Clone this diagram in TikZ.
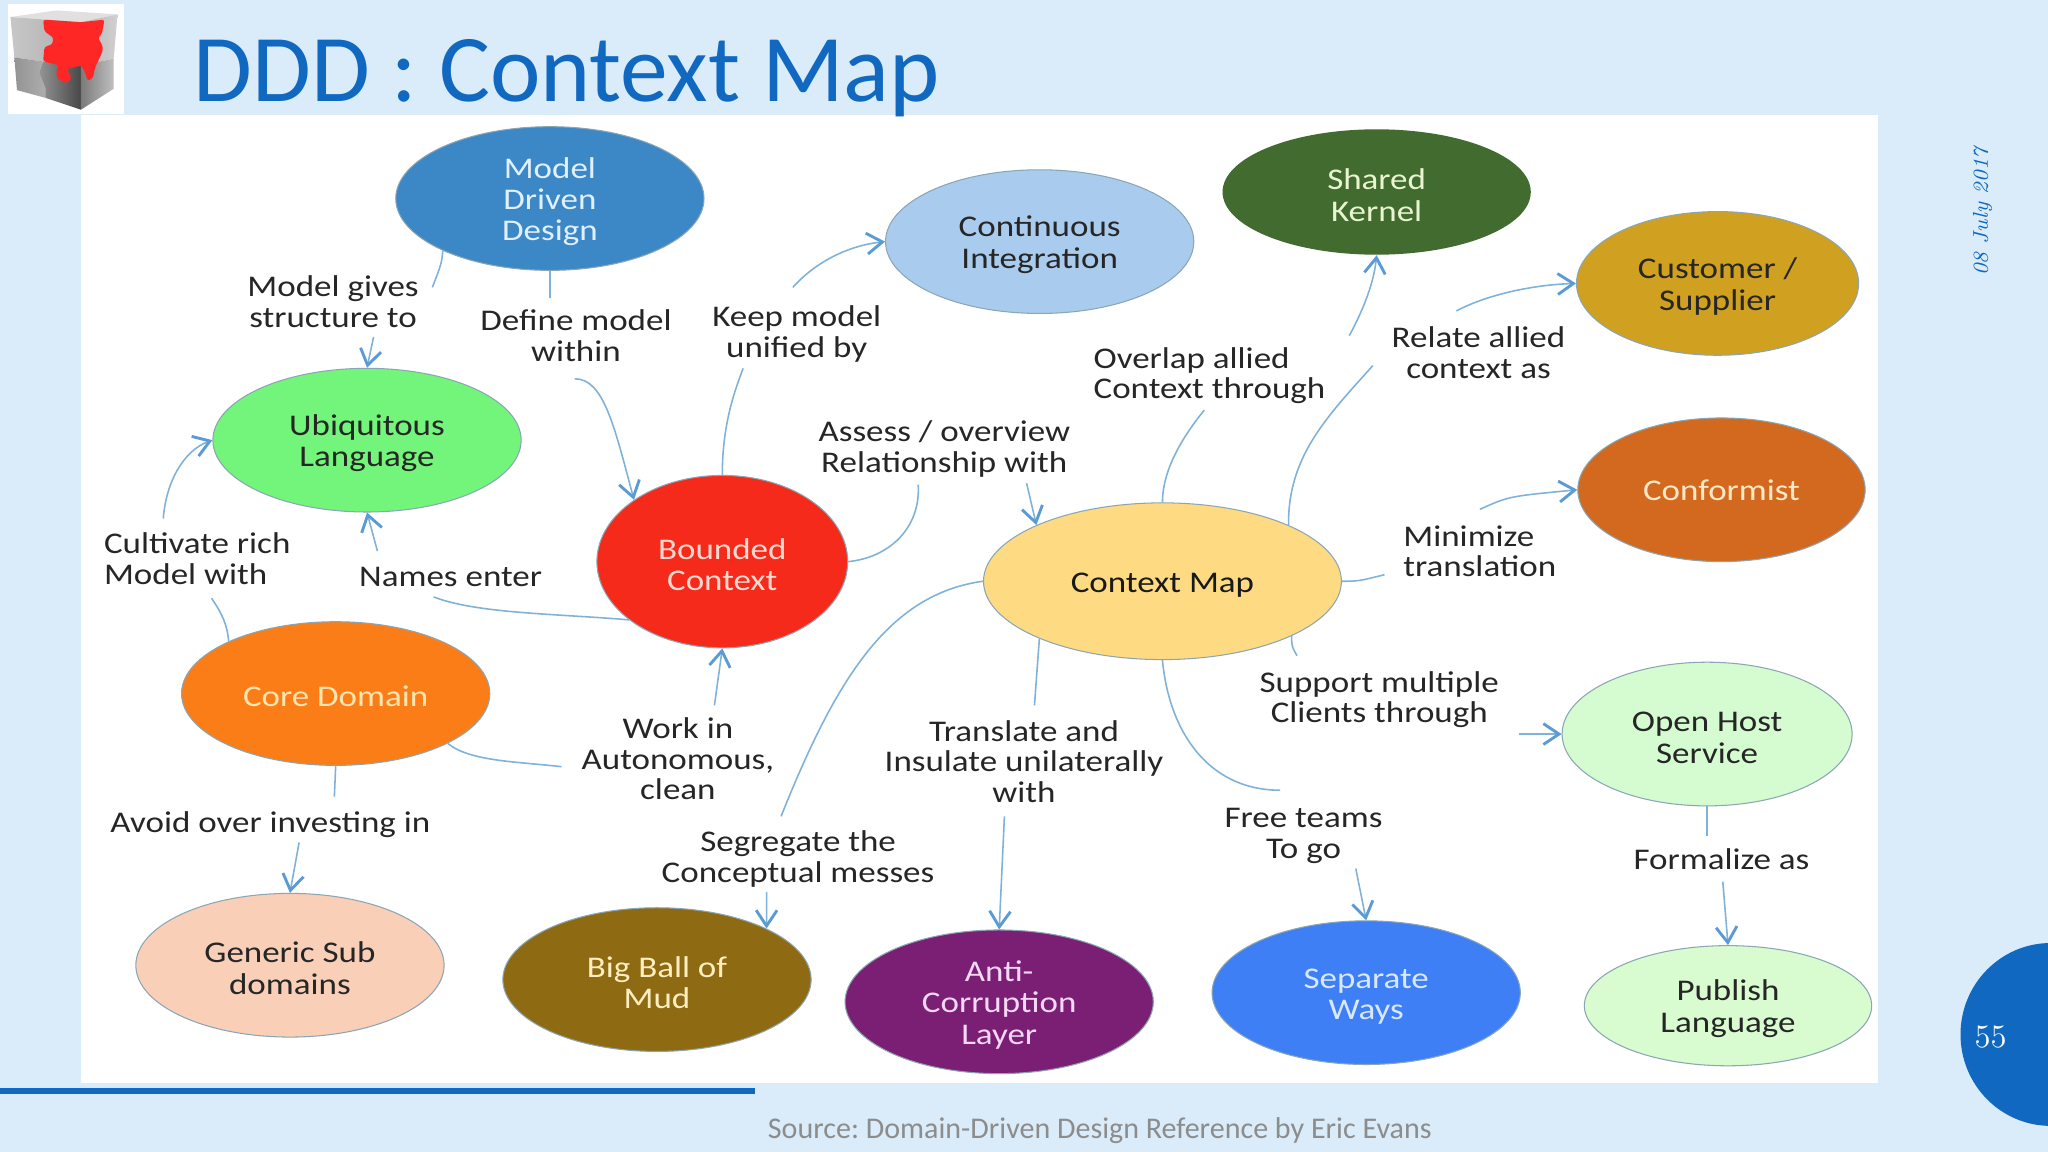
\documentclass[tikz,border=0pt]{standalone}
\usepackage{fontspec}
\setmainfont{Carlito}
\frenchspacing
\newfontfamily\lmfont{Latin Modern Roman}
\newfontfamily\wideface[FakeStretch=1.165]{Carlito}
\usepackage{tikz}
\usetikzlibrary{shapes,arrows.meta,positioning,calc}

\definecolor{slidebg}{HTML}{DAECF9}
\definecolor{slideblue}{HTML}{1068C0}
\definecolor{linkblue}{HTML}{7FB2D8}
\definecolor{tipblue}{HTML}{5B9BD5}
\definecolor{rimgray}{HTML}{8AA6B4}

\tikzset{
    drop/.style={execute at begin node=\rule{0pt}{#1}},
    drop/.default=22.3pt,
    oval/.style={ellipse, draw=rimgray, thin, inner sep=0pt, on grid, minimum width=118pt, minimum height=55pt, align=center, font=\wideface\fontsize{11.5}{12}\selectfont},
    lbl/.style={on grid, inner sep=0pt, text=black!85, align=center, font=\wideface\fontsize{11.5}{11.75}\selectfont},
    link/.style={draw=linkblue, line width=0.6pt},
    linkto/.style={link, -{Straight Barb[length=6pt,width=8pt,line width=1.1pt,color=tipblue]}}
}

\begin{document}
\begin{tikzpicture}[x=0.5pt,y=-0.5pt]
    \useasboundingbox (0,0) rectangle (1568,882);
    \fill[slidebg] (0,0) rectangle (1568,882);
    \fill[white] (62,88) rectangle (1438,829);

    % logo
    \fill[white] (6,3) rectangle (95,87);
    \fill[black!12] (8,13) -- (43,8) -- (90,11) -- (62,17) -- cycle;
    \shade[left color=black!22, right color=black!32] (8,13) -- (62,17) -- (62,50) -- (33,47) -- (11,44) -- cycle;
    \shade[left color=black!42, right color=black!32] (11,44) -- (33,47) -- (30,56) -- (35,68) -- (35,75) -- (13,69) -- cycle;
    \shade[left color=black!42, right color=black!72] (33,47) -- (62,50) -- (62,84) -- (35,75) -- (35,68) -- (30,56) -- cycle;
    \shade[left color=black!30, right color=black!18] (62,17) -- (90,11) -- (87,45) -- (62,50) -- cycle;
    \shade[left color=black!52, right color=black!25] (62,50) -- (87,45) -- (87,68) -- (62,84) -- cycle;
    \fill[red!85!white, rounded corners=1pt] (33,15) -- (62,17) -- (80,15) -- (78,26) -- (75,29) -- (78,34) -- (79,38) -- (76,45) -- (73,51) -- (71,60) -- (67,62) -- (65,55) -- (62,50) -- (51,53) -- (55,60) -- (50,64) -- (44,60) -- (43,55) -- (45,50) -- (33,47) -- (34,36) -- (40,34) -- (41,29) -- (34,24) -- cycle;

    % title and slide furniture
    \node[anchor=base west, inner sep=0pt, text=slideblue, font=\fontsize{36.6}{37}\selectfont] (title) at (148,78) {DDD : Context Map};
    \fill[slideblue] (0,833) rectangle (578,837.5);
    \node[inner sep=0pt, text=black!45, font=\fontsize{11.5}{12}\selectfont] (source) at (842,866) {Source: Domain-Driven Design Reference by Eric Evans};
    \node[rotate=90, inner sep=0pt, text=slideblue, font=\lmfont\itshape\fontsize{8.2}{8}\selectfont] (date) at (1518,162) {08 July 2017};
    \fill[slideblue] (1570,792) ellipse (69 and 70);
    \node[inner sep=0pt, text=white, font=\lmfont\fontsize{12.5}{12}\selectfont] (page) at (1524,794) {55};

    % ovals
    \node[oval, drop=34.4pt, fill={rgb,255:red,60;green,135;blue,198}, text={rgb,255:red,224;green,240;blue,255}] (mdd) at (421,152) {Model\\Driven\\Design};
    \node[oval, drop, fill={rgb,255:red,169;green,204;blue,238}, text=black!85, below right=16.5pt and 187.5pt of mdd] (integration) {Continuous\\Integration};
    \node[oval, drop, fill={rgb,255:red,66;green,107;blue,47}, draw=none, text={rgb,255:red,232;green,245;blue,208}, minimum height=48pt, above right=19pt and 129pt of integration] (kernel) {Shared\\Kernel};
    \node[oval, drop, fill={rgb,255:red,208;green,160;blue,32}, text=black!85, minimum width=108pt, below right=35pt and 130.5pt of kernel] (supplier) {Customer /\\Supplier};
    \node[oval, fill={rgb,255:red,210;green,105;blue,30}, text={rgb,255:red,255;green,232;blue,200}, minimum width=110pt, below right=79pt and 1.5pt of supplier] (conformist) {Conformist};
    \node[oval, drop, fill={rgb,255:red,114;green,245;blue,122}, text=black!85, below left=92.5pt and 70pt of mdd] (ubiquitous) {Ubiquitous\\Language};
    \node[oval, drop, fill={rgb,255:red,245;green,42;blue,26}, text={rgb,255:red,255;green,216;blue,208}, minimum width=96pt, minimum height=66pt, below right=46.5pt and 136pt of ubiquitous] (bounded) {Bounded\\Context};
    \node[oval, drop=10.3pt, fill={rgb,255:red,254;green,219;blue,130}, text=black!90, minimum width=137pt, minimum height=60pt, below right=7.5pt and 168.5pt of bounded] (contextmap) {Context Map};
    \node[oval, drop=10.3pt, fill={rgb,255:red,251;green,125;blue,23}, text={rgb,255:red,255;green,229;blue,176}, below left=97pt and 12pt of ubiquitous] (core) {Core Domain};
    \node[oval, drop, fill={rgb,255:red,249;green,207;blue,184}, text=black!85, below left=104pt and 17.5pt of core] (generic) {Generic Sub\\domains};
    \node[oval, drop, fill={rgb,255:red,142;green,106;blue,19}, text={rgb,255:red,255;green,239;blue,192}, below right=5.5pt and 140.5pt of generic] (mud) {Big Ball of\\Mud};
    \node[oval, drop=34.4pt, fill={rgb,255:red,123;green,31;blue,117}, text={rgb,255:red,245;green,216;blue,245}, below right=8.5pt and 131pt of mud] (corruption) {Anti-\\Corruption\\Layer};
    \node[oval, drop, fill={rgb,255:red,63;green,127;blue,245}, text={rgb,255:red,216;green,232;blue,255}, above right=3.5pt and 140.5pt of corruption] (separate) {Separate\\Ways};
    \node[oval, drop, fill={rgb,255:red,216;green,251;blue,207}, text=black!85, minimum width=110pt, minimum height=46pt, below right=5pt and 138.5pt of separate] (publish) {Publish\\Language};
    \node[oval, drop, fill={rgb,255:red,213;green,251;blue,208}, text=black!85, minimum width=111pt, above left=104pt and 8pt of publish] (openhost) {Open Host\\Service};

    % labels
    \node[lbl, above left=53pt and 13pt of ubiquitous] (gives) {Model gives\\structure to};
    \node[lbl, below right=52.5pt and 10pt of mdd] (within) {Define model\\within};
    \node[lbl, drop, above right=88.5pt and 28.5pt of bounded] (unified) {Keep model\\unified by};
    \node[lbl, drop, above left=52pt and 83.5pt of contextmap] (assess) {Assess / overview\\Relationship with};
    \node[lbl, drop, above right=80pt and 18pt of contextmap, align=left] (overlap) {Overlap allied\\Context through};
    \node[lbl, below left=26.5pt and 91.5pt of supplier] (relate) {Relate allied\\context as};
    \node[lbl, below left=23.5pt and 92.5pt of conformist, align=left] (minimize) {Minimize\\translation};
    \node[lbl, below left=45.5pt and 65pt of ubiquitous, align=left] (cultivate) {Cultivate rich\\Model with};
    \node[lbl, below right=52.5pt and 32pt of ubiquitous] (names) {Names enter};
    \node[lbl, below left=75.5pt and 17pt of bounded] (work) {Work in\\Autonomous,\\clean};
    \node[lbl, drop=10.3pt, below left=49pt and 25pt of core] (avoid) {Avoid over investing in};
    \node[lbl, drop, above right=47.5pt and 54pt of mud] (segregate) {Segregate the\\Conceptual messes};
    \node[lbl, below left=69pt and 53pt of contextmap] (translate) {Translate and\\Insulate unilaterally\\with};
    \node[lbl, drop, above left=61.5pt and 24pt of separate] (free) {Free teams\\To go};
    \node[lbl, drop, below right=44pt and 83pt of contextmap] (support) {Support multiple\\Clients through};
    \node[lbl, below right=48pt and 5.5pt of openhost] (formalize) {Formalize as};

    % connectors
    \draw[link] (mdd.206) .. controls (338,202) .. ([shift={(76,-11)}]gives.center);
    \draw[linkto] ([shift={(31,27)}]gives.center) -- (ubiquitous.north);
    \draw[link] (mdd.south) -- ([shift={(-20,-29)}]within.center);
    \draw[linkto] ([shift={(-1,33)}]within.center) .. controls (462,290) and (470,325) .. (bounded.145);
    \draw[link] (bounded.north) .. controls (553,330) and (560,305) .. ([shift={(-41,29)}]unified.center);
    \draw[linkto] ([shift={(-3,-33)}]unified.center) .. controls (625,200) and (650,188) .. (integration.west);
    \draw[link] (bounded.east) .. controls (680,427) and (705,405) .. ([shift={(-20,30)}]assess.center);
    \draw[linkto] ([shift={(63,29)}]assess.center) -- (contextmap.156);
    \draw[link] (contextmap.north) .. controls (890,360) and (905,335) .. ([shift={(-4,29)}]overlap.center);
    \draw[linkto] ([shift={(107,-28)}]overlap.center) .. controls (1045,235) and (1052,215) .. (kernel.south);
    \draw[link] (contextmap.24) .. controls (986,350) and (1015,320) .. ([shift={(-81,10)}]relate.center);
    \draw[linkto] ([shift={(-17,-32)}]relate.center) .. controls (1140,225) and (1175,218) .. (supplier.west);
    \draw[link] (contextmap.east) .. controls (1040,445) .. ([shift={(-73,18)}]minimize.center);
    \draw[linkto] ([shift={(0,-32)}]minimize.center) .. controls (1155,380) .. (conformist.west);
    \draw[link] (contextmap.337) .. controls (989,495) .. ([shift={(-63,-31)}]support.center);
    \draw[linkto] ([shift={(107,29)}]support.center) -- (openhost.west);
    \draw[link] (openhost.south) -- ([shift={(-11,-18)}]formalize.center);
    \draw[linkto] ([shift={(1,17)}]formalize.center) -- (publish.north);
    \draw[link] (contextmap.south) .. controls (895,560) and (925,605) .. ([shift={(-18,-32)}]free.center);
    \draw[linkto] ([shift={(40,28)}]free.center) -- (separate.north);
    \draw[link] (contextmap.205) -- ([shift={(8,-43)}]translate.center);
    \draw[linkto] ([shift={(-15,42)}]translate.center) -- (corruption.north);
    \draw[link] (contextmap.west) .. controls (680,455) and (640,520) .. ([shift={(-13,-30)}]segregate.center);
    \draw[linkto] ([shift={(-24,28)}]segregate.center) -- (mud.25.5);
    \draw[linkto] ([shift={(28,-41)}]work.center) -- (bounded.south);
    \draw[link] (core.336) .. controls (360,583) and (395,583) .. ([shift={(-89,6)}]work.center);
    \draw[link] (bounded.212) .. controls (430,470) and (365,470) .. ([shift={(-13,15)}]names.center);
    \draw[linkto] ([shift={(-56,-20)}]names.center) -- (ubiquitous.south);
    \draw[link] (core.154) .. controls (174,478) and (170,470) .. ([shift={(11,30)}]cultivate.center);
    \draw[linkto] ([shift={(-26,-31)}]cultivate.center) .. controls (127,370) and (140,345) .. (ubiquitous.west);
    \draw[link] (core.south) -- ([shift={(49,-19)}]avoid.center);
    \draw[linkto] ([shift={(22,16)}]avoid.center) -- (generic.north);
\end{tikzpicture}
\end{document}
